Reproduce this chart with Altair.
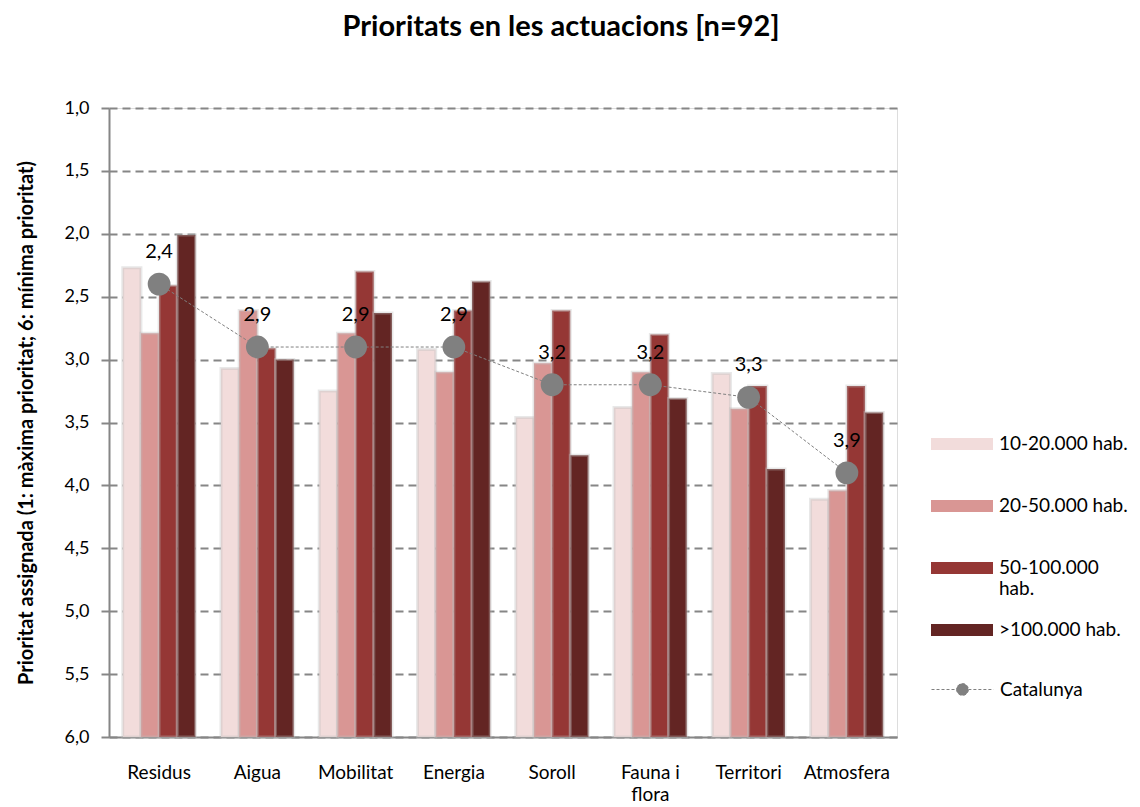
import altair as alt
import pandas as pd

categories = ["Residus", "Aigua", "Mobilitat", "Energia", "Soroll", "Fauna i flora", "Territori", "Atmosfera"]
series_names = ["10-20.000 hab.", "20-50.000 hab.", "50-100.000 hab.", ">100.000 hab."]
s_10_20 = [2.27, 3.07, 3.25, 2.92, 3.46, 3.38, 3.11, 4.11]
s_20_50 = [2.79, 2.61, 2.79, 3.10, 3.03, 3.10, 3.39, 4.04]
s_50_100 = [2.41, 2.91, 2.30, 2.61, 2.61, 2.80, 3.21, 3.21]
s_100 = [2.01, 3.00, 2.63, 2.38, 3.76, 3.31, 3.87, 3.42]
catalunya = [2.4, 2.9, 2.9, 2.9, 3.2, 3.2, 3.3, 3.9]
colors = ["#F2DCDB", "#D99694", "#953735", "#632523"]
y_ticks = [1.0, 1.5, 2.0, 2.5, 3.0, 3.5, 4.0, 4.5, 5.0, 5.5, 6.0]

rows = []
for name, vals in zip(series_names, [s_10_20, s_20_50, s_50_100, s_100]):
    for c, v in zip(categories, vals):
        rows.append({"cat": c, "serie": name, "value": v})
bars_df = pd.DataFrame(rows)
cat_df = pd.DataFrame({"cat": categories, "value": catalunya, "s": ["Catalunya"] * len(categories)})

FONT = "Lato"
GRID = "#868686"

x_enc = alt.X(
    "cat:N",
    sort=categories,
    scale=alt.Scale(paddingInner=0.26, paddingOuter=0.14),
    axis=alt.Axis(
        title=None, labelAngle=0, ticks=False, labelFontSize=19, labelPadding=26,
        labelColor="#000", domainColor=GRID, domainWidth=2, labelFont=FONT,
        labelLineHeight=22,
        labelExpr="datum.label == 'Fauna i flora' ? ['Fauna i', 'flora'] : datum.label",
    ),
)
y_scale = alt.Scale(domain=[1, 6], reverse=True, zero=False, nice=False)

bars = alt.Chart(bars_df).mark_bar(stroke="#bdbdbd", strokeWidth=3, strokeOpacity=0.35).encode(
    x=x_enc,
    xOffset=alt.XOffset("serie:N", sort=series_names),
    y=alt.Y(
        "value:Q",
        scale=y_scale,
        axis=alt.Axis(
            values=y_ticks,
            labelExpr="replace(format(datum.value, '.1f'), '.', ',')",
            title="Prioritat assignada (1: màxima prioritat; 6: mínima prioritat)",
            titleFontSize=20, titleFontWeight="bold", titleFont=FONT, titleColor="#000",
            labelFontSize=18, labelFont=FONT, labelColor="#000", labelPadding=12,
            grid=True, gridDash=[8, 5], gridColor=GRID, gridWidth=2,
            domainColor=GRID, domainWidth=2, tickColor=GRID, tickWidth=2, tickSize=8,
            titlePadding=28,
        ),
    ),
    y2=alt.datum(6),
    color=alt.Color(
        "serie:N",
        sort=series_names,
        scale=alt.Scale(domain=series_names, range=colors),
        legend=alt.Legend(
            title=None, orient="none", legendX=822, legendY=305,
            symbolType="M-1,-0.19L1,-0.19L1,0.19L-1,0.19Z", symbolSize=3844,
            symbolStrokeWidth=0, labelFontSize=19, labelFont=FONT, labelColor="#000",
            rowPadding=0, labelLimit=200, labelOffset=6,
            labelExpr="datum.label == '50-100.000 hab.' ? ['50-100.000', 'hab.'] : [datum.label, '']",
        ),
    ),
)

line = alt.Chart(cat_df).mark_line(color="#808080", strokeWidth=1).encode(
    x=alt.X("cat:N", sort=categories),
    y=alt.Y("value:Q", scale=y_scale),
    strokeDash=alt.StrokeDash(
        "s:N",
        scale=alt.Scale(domain=["Catalunya"], range=[[3, 2]]),
        legend=alt.Legend(
            title=None, orient="none", legendX=822, legendY=550,
            symbolType="M-1,0L-0.19,0M0.19,0L1,0M-0.19,0A0.19,0.19 0 1,0 0.19,0A0.19,0.19 0 1,0 -0.19,0Z",
            symbolSize=3844, symbolFillColor="#808080", symbolStrokeColor="#808080",
            symbolStrokeWidth=1, symbolDash=[3, 2],
            labelFontSize=19, labelFont=FONT, labelColor="#000", labelOffset=6,
        ),
    ),
)

points = alt.Chart(cat_df).mark_circle(color="#808080", size=520, opacity=1).encode(
    x=alt.X("cat:N", sort=categories),
    y=alt.Y("value:Q", scale=y_scale),
)

labels = alt.Chart(cat_df).mark_text(dy=-32, fontSize=20, font=FONT, color="#000").encode(
    x=alt.X("cat:N", sort=categories),
    y=alt.Y("value:Q", scale=y_scale),
    text=alt.Text("lbl:N"),
).transform_calculate(lbl="replace(format(datum.value, '.1f'), '.', ',')")

chart = alt.layer(bars, line, points, labels).properties(
    width=788,
    height=629,
    padding={"left": 8, "right": 0, "top": 5, "bottom": 0},
    title=alt.TitleParams(
        "Prioritats en les actuacions [n=92]",
        fontSize=29, fontWeight="bold", font=FONT, color="#000",
        anchor="middle", offset=57, dx=58,
    ),
).configure_view(stroke=None).configure(background="white")

chart.save("out.html", embed_options={"renderer": "svg", "actions": False})
